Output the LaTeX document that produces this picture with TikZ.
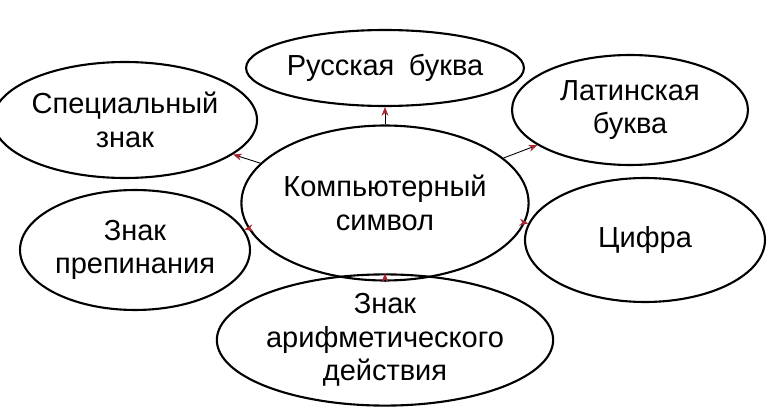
\documentclass[tikz,border=0pt]{standalone}
\usepackage{fontspec}
\setmainfont{Liberation Sans}
\usetikzlibrary{shapes.geometric,arrows.meta}
\definecolor{ArrRed}{RGB}{170,40,50}
\tikzset{
  oval/.style={draw, ellipse, line width=1.2pt, inner sep=0pt, align=center,
    font=\fontsize{16.5}{19}\selectfont},
  link/.style={line width=0.5pt, -{Stealth[length=5pt,width=4pt,color=ArrRed]}},
}
\begin{document}
\begin{tikzpicture}[x=0.02cm,y=-0.02cm]
\useasboundingbox (0,0) rectangle (769,409);
% outer ovals
\node[oval, minimum width=5.4cm, minimum height=1.52cm] (rus) at (385,68) {Русская\enspace буква};
\node[oval, minimum width=4.72cm, minimum height=2.32cm] (spec) at (125,120) {Специальный\\знак};
\node[oval, minimum width=4.72cm, minimum height=2.2cm] (lat) at (630,110) {Латинская\\буква};
\node[oval, minimum width=4.6cm, minimum height=2.4cm] (punct) at (135,250) {Знак\\препинания};
\node[oval, minimum width=4.8cm, minimum height=2.48cm] (dig) at (645,240) {Цифра};
\node[oval, minimum width=6.6cm, minimum height=2.4cm] (arith) at (385,340) {Знак\\арифметического\\действия};
% centre
\node[oval, minimum width=5.2cm, minimum height=3.1cm] (sym) at (385,203) {Компьютерный\\символ};
\foreach \t in {rus,spec,lat,punct,dig,arith}
  \draw[link] (sym) -- (\t);
\end{tikzpicture}
\end{document}
